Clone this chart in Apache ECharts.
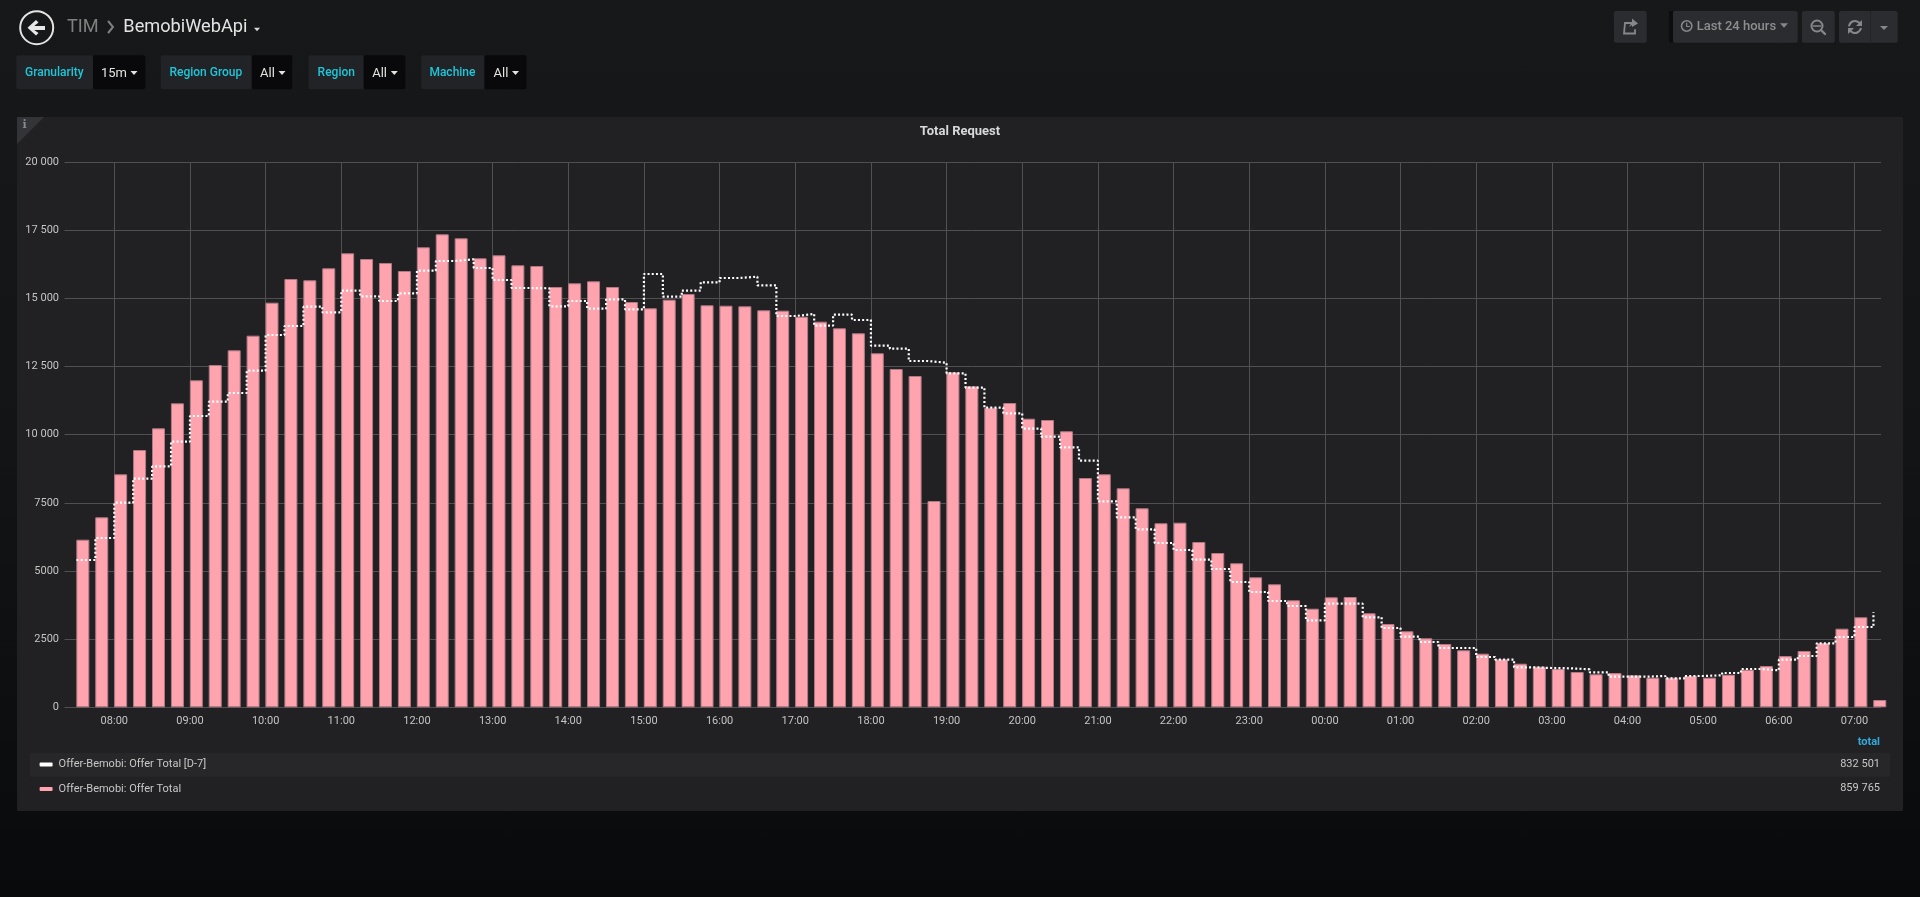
<!DOCTYPE html>
<html><head><meta charset="utf-8">
<style>
html,body{margin:0;padding:0;width:1920px;height:897px;overflow:hidden;background:linear-gradient(180deg,#17181a 0%,#131416 50%,#090a0c 100%);}
#c{width:1920px;height:897px;}
</style>
<script src="https://cdn.jsdelivr.net/npm/echarts@6/dist/echarts.min.js"></script>
</head><body><div id="c"></div>
<script>
// Data: one value per 15 minutes from 07:30 to 07:15 next day
const startTime = Date.UTC(2019,0,1,7,30);
const stepMs = 15*60*1000;
// ECharts widens a time axis by the bar width (13 px of 1816.5 px), so min/max are pulled in by that same amount
const axisInset = 309250;
const axisFrom = Date.UTC(2019,0,1,7,20,30)+axisInset;
const axisTo = Date.UTC(2019,0,2,7,21,0)-axisInset;
const offerTotal = [6147,6968,8545,9437,10232,11149,11993,12555,13093,13630,14840,15709,15661,16101,16651,16442,16296,16002,16871,17348,17201,16468,16578,16211,16186,15415,15551,15624,15415,14865,14634,14950,15158,14744,14729,14707,14560,14547,14326,14143,13900,13717,12984,12408,12151,7566,12287,11773,10988,11161,10585,10537,10123,8410,8546,8032,7299,6749,6771,6063,5659,5282,4768,4511,3924,3616,4034,4045,3448,3055,2787,2531,2322,2091,1966,1760,1599,1489,1405,1295,1210,1258,1174,1086,1086,1148,1086,1196,1379,1515,1881,2065,2358,2883,3301,268];
const offerTotalD7 = [5402,6209,7504,8384,8835,9741,10684,11208,11527,12345,13655,13985,14693,14487,15280,15074,14902,15184,16013,16369,16431,16112,15672,15379,15368,14707,14902,14620,14964,14597,15892,15060,15280,15587,15745,15793,15478,14352,14425,13996,14399,14205,13262,13152,12701,12639,12250,11722,10988,10783,10218,9925,9536,9045,7555,6969,6529,6026,5769,5414,5072,4596,4229,3899,3715,3191,3800,3800,3301,2909,2589,2395,2175,2175,1845,1746,1467,1441,1430,1394,1284,1122,1122,1148,1064,1148,1174,1258,1405,1357,1746,1881,2347,2578,2945,3484];
const seriesNames = ['Offer-Bemobi: Offer Total [D-7]','Offer-Bemobi: Offer Total'];
const seriesTotals = ['832 501','859 765'];
const variables = [
 {label:'Granularity',value:'15m',x0:16.3,x1:93,x2:145.3,lx:25,vx:101,cx:134},
 {label:'Region Group',value:'All',x0:160.8,x1:251.8,x2:292.2,lx:169.4,vx:260,cx:282},
 {label:'Region',value:'All',x0:308.6,x1:363.7,x2:405.3,lx:317.6,vx:372.2,cx:394.3},
 {label:'Machine',value:'All',x0:421.2,x1:484.5,x2:526.5,lx:429.4,vx:493.5,cx:515.5}
];
const FONT='Roboto';
const barHalfMs = 5.04*60*1000; // bars hang to the right of their timestamp
const g=[];
const rect=(x,y,w,h,fill,r)=>g.push({type:'rect',z:-10,silent:true,shape:{x,y,width:w,height:h,r:r||0},style:{fill}});
const txt=(x,y,text,fill,size,weight,align,family)=>g.push({type:'text',z:-5,silent:true,x,y,style:{text,fill,font:(weight||'normal')+' '+size+'px '+(family||FONT),textAlign:align||'left',textVerticalAlign:'middle'}});
const poly=(pts,fill)=>g.push({type:'polygon',z:-5,silent:true,shape:{points:pts},style:{fill}});
const caret=(cx,cy,w,h,fill)=>poly([[cx-w,cy-h/2],[cx+w,cy-h/2],[cx,cy+h/2]],fill);
const stroke=(type,shape,col,lw)=>g.push({type,z:-5,silent:true,shape,style:{stroke:col,lineWidth:lw,fill:null,lineCap:'round'}});

// panel
rect(17,117,1886,694,'#212124',1);
rect(29.8,753,1860.2,23.7,'#272729');
poly([[17,117],[44,117],[17,144]],'#333437');
txt(24.5,125,'i','#8a8a8a',11,'bold','center','DejaVu Serif');

// nav left
stroke('circle',{cx:36.7,cy:27.7,r:16.5},'#e4e4e4',2);
poly([[27.5,27.7],[36,20],[38.5,22.5],[34.2,26],[45,26],[45,30],[34.2,30],[38.5,33],[36,35.5]],'#e8e8e8');
txt(67,27,'TIM','#808080',18.2);
stroke('polyline',{points:[[108.5,21.5],[113,27],[108.5,32.5]]},'#808080',2);
txt(123.3,27,'BemobiWebApi','#e3e3e3',18.2);
caret(257,29.5,3,3.5,'#d8d8d8');

// template variables
variables.forEach(v=>{
  rect(v.x0,55.3,v.x1-v.x0,34,'#212327',2);
  rect(v.x1,55.3,v.x2-v.x1,34,'#09090b',2);
  txt(v.lx,73,v.label,'#1fc6d9',12,'500');
  txt(v.vx,74,v.value,'#e3e3e3',13);
  caret(v.cx,73,3.5,4,'#e3e3e3');
});

// nav right
const btnY=11,btnH=31.7,btn='#2b2c2f';
rect(1614,btnY,32.7,btnH,btn,2);
rect(1669,btnY,4,btnH,'#0c0d0e');
rect(1673,btnY,124.7,btnH,btn,2);
rect(1802,btnY,32.7,btnH,btn,2);
rect(1839,btnY,58.7,btnH,btn,2);
rect(1870,btnY,.8,btnH,'#212225');
const ic='#86878a';
stroke('polyline',{points:[[1632,23],[1625,23],[1624,33.5],[1635,33.5],[1635,30]]},ic,1.8);
poly([[1629,27],[1632,21.5],[1632,18.5],[1638,23.5],[1632,27],[1632,25]],ic);
stroke('circle',{cx:1686.7,cy:26,r:5.2},ic,1.6);
stroke('polyline',{points:[[1686.7,23],[1686.7,26.5],[1689.5,26.5]]},ic,1.2);
txt(1696.7,26.5,'Last 24 hours','#8d8e90',13,'500');
caret(1784,25.5,4,4.5,ic);
stroke('circle',{cx:1817,cy:26,r:5.5},ic,2);
stroke('line',{x1:1813.5,y1:26,x2:1820.5,y2:26},ic,1.6);
stroke('line',{x1:1821.5,y1:30.5,x2:1825,y2:34},ic,2.4);
stroke('arc',{cx:1855,cy:27,r:6,startAngle:3.4,endAngle:5.9,clockwise:true},ic,2.2);
stroke('arc',{cx:1855,cy:27,r:6,startAngle:0.3,endAngle:2.8,clockwise:true},ic,2.2);
poly([[1862,20],[1862,26],[1856,26]],ic);
poly([[1848,34],[1848,28],[1854,28]],ic);
caret(1884,28,4,4,ic);

// legend table parts that are not the legend itself
txt(1880,742,'total','#33a9d9',11,'bold','right');
seriesTotals.forEach((t,i)=>txt(1880,764+24*i,t,'#c8c8c8',11,'normal','right'));

const chart=echarts.init(document.getElementById('c'),null,{width:1920,height:897});
const times=offerTotal.map((_,i)=>startTime+i*stepMs);
chart.setOption({
  useUTC:true,animation:false,backgroundColor:'transparent',
  textStyle:{fontFamily:FONT},
  title:{text:'Total Request',left:960,textAlign:'center',top:125,padding:0,textStyle:{color:'#d8d9da',fontSize:13,fontWeight:'bold',fontFamily:FONT}},
  grid:{left:64.5,right:39,top:162,bottom:897-707.3,containLabel:false},
  legend:{orient:'vertical',left:39.6,top:759,padding:0,itemGap:13.5,itemWidth:13,itemHeight:4,icon:'roundRect',
    data:[{name:seriesNames[0],itemStyle:{borderWidth:0}},{name:seriesNames[1],itemStyle:{borderWidth:0}}],selectedMode:false,
    textStyle:{color:'#c8c8c8',fontSize:11,fontFamily:FONT,padding:[0,0,0,1]}},
  xAxis:{type:'time',min:axisFrom,max:axisTo,minInterval:3600000,maxInterval:3600000,
    axisLine:{show:false},axisTick:{show:false},
    axisLabel:{color:'#c4c4c4',fontSize:11,margin:8,fontFamily:FONT,formatter:'{HH}:{mm}',showMinLabel:false,showMaxLabel:false,hideOverlap:false},
    splitLine:{show:true,showMinLine:false,showMaxLine:false,lineStyle:{color:'#505052',width:1}}},
  yAxis:{type:'value',min:0,max:20000,interval:2500,
    axisLine:{show:false},axisTick:{show:false},
    axisLabel:{color:'#c4c4c4',fontSize:11,margin:5.5,fontFamily:FONT,formatter:v=>v>=10000?String(v).replace(/\B(?=(\d{3})+$)/g,' '):String(v)},
    splitLine:{show:true,lineStyle:{color:'#505052',width:1}}},
  series:[
    {name:seriesNames[1],type:'bar',barWidth:13,clip:true,z:3,
     itemStyle:{color:'#FFA3AF',borderColor:'#b07a84',borderWidth:1},
     data:times.map((t,i)=>[t+barHalfMs,offerTotal[i]])},
    {name:seriesNames[0],type:'line',step:'end',showSymbol:false,z:4,clip:true,
     itemStyle:{color:'#ffffff'},
     lineStyle:{color:'#ffffff',width:2.2,type:[2,2.2]},
     data:times.map((t,i)=>[t,offerTotalD7[i]])}
  ],
  graphic:{elements:g}
});
</script></body></html>
